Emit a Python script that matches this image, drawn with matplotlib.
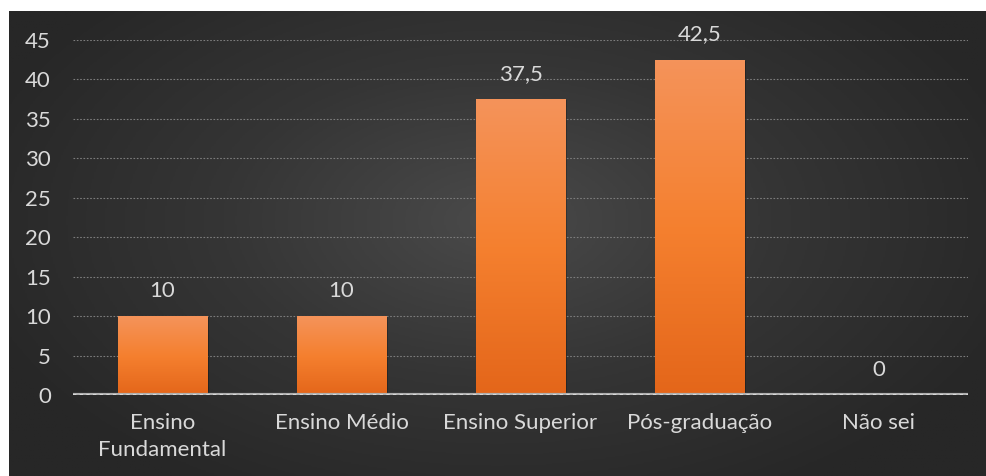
import matplotlib.pyplot as plt
import numpy as np
from matplotlib.colors import LinearSegmentedColormap

categorias = ['Ensino\nFundamental', 'Ensino Médio', 'Ensino Superior', 'Pós-graduação', 'Não sei']
valores = [10, 10, 37.5, 42.5, 0]
rotulos = ['10', '10', '37,5', '42,5', '0']
yticks = [0, 5, 10, 15, 20, 25, 30, 35, 40, 45]

plt.rcParams['font.family'] = ['Lato', 'DejaVu Sans']
txt = '#d9d9d9'

fig = plt.figure(figsize=(9.86, 4.76), dpi=100)
fig.patch.set_facecolor('white')

# fundo escuro com gradiente radial
bg = fig.add_axes([9 / 986, 0, 977 / 986, 465 / 476])
bg.set_axis_off()
yy, xx = np.mgrid[0:1:300j, 0:1:600j]
r = np.sqrt(((xx - 0.5) / 0.75) ** 2 + ((yy - 0.45) / 0.9) ** 2)
cm = LinearSegmentedColormap.from_list('bg', ['#4a4a4a', '#353535', '#272727'])
bg.imshow(r, cmap=cm, aspect='auto', extent=[0, 1, 0, 1], vmin=0, vmax=0.75)
bg.set_xlim(0, 1)
bg.set_ylim(0, 1)

ax = fig.add_axes([73 / 986, 81 / 476, 895 / 986, 355 / 476])
ax.set_facecolor('none')
x = np.arange(len(categorias))

ax.set_xlim(-0.5, len(categorias) - 0.5)
ax.set_ylim(0, 45)
ax.set_yticks(yticks)
for t in yticks[1:]:
    ax.axhline(t, color='#7d7d7d', lw=0.8, ls=(0, (1.5, 1.5)), zorder=1)

grad = LinearSegmentedColormap.from_list('bar', ['#e4661a', '#f5802f', '#f4935a'])
bars = ax.bar(x, valores, width=0.5, color='#f28434', zorder=2)
for b in bars:
    if b.get_height() <= 0:
        continue
    x0, y0 = b.get_x(), b.get_y()
    w, h = b.get_width(), b.get_height()
    # leve sombra
    ax.bar(x0 + w / 2 + 0.012, h, width=w, bottom=-0.15, color='black', alpha=0.25, zorder=1.5)
    im = ax.imshow(np.linspace(0, 1, 100).reshape(-1, 1), cmap=grad, aspect='auto',
                   extent=[x0, x0 + w, y0, y0 + h], origin='lower', zorder=2.5)
    im.set_clip_path(b)

for xi, v, lab in zip(x, valores, rotulos):
    ax.annotate(lab, (xi, v), xytext=(0, 11), textcoords='offset points',
                ha='center', va='bottom', color=txt, fontsize=16)

ax.axhline(0, color='#b0b0b0', lw=3, zorder=3)
ax.axhline(0, color='#e0e0e0', lw=1.2, ls=(0, (2, 2)), zorder=3.1)

ax.set_xticks(x)
ax.set_xticklabels(categorias, color=txt, fontsize=16, linespacing=1.45)
ax.tick_params(axis='x', length=0, pad=13)
ax.tick_params(axis='y', length=0, pad=16, labelcolor=txt, labelsize=16)
for s in ax.spines.values():
    s.set_visible(False)
ax.set_xlim(-0.5, len(categorias) - 0.5)
ax.set_ylim(0, 45)

fig.savefig('out.png', dpi=100)
